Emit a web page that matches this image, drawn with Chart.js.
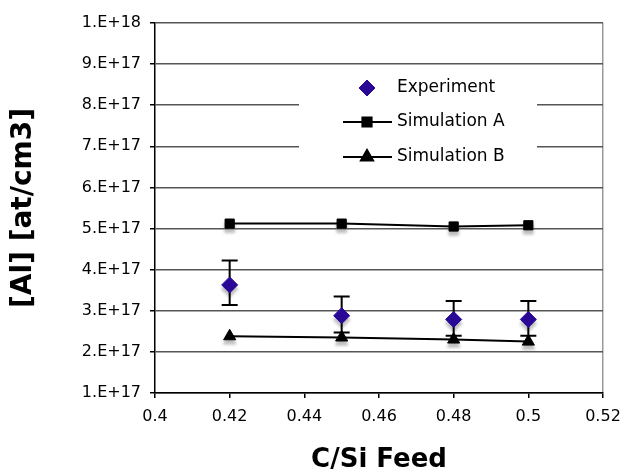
<!DOCTYPE html>
<html>
<head>
<meta charset="utf-8">
<script src="https://cdn.jsdelivr.net/npm/chart.js@4/dist/chart.umd.min.js"></script>
<style>
  html, body { margin: 0; padding: 0; background: #fff; }
  canvas { display: block; }
</style>
</head>
<body>
<canvas id="c" width="625" height="473"></canvas>
<script>
// C/Si feed ratio vs Al concentration
const feed       = [0.42, 0.45, 0.48, 0.50];
const experiment = [3.63e17, 2.88e17, 2.79e17, 2.79e17];
const expHigh    = [4.22e17, 3.35e17, 3.24e17, 3.24e17];
const expLow     = [3.14e17, 2.47e17, 2.39e17, 2.39e17];
const simA       = [5.12e17, 5.12e17, 5.05e17, 5.08e17];
const simB       = [2.38e17, 2.35e17, 2.30e17, 2.25e17];
const seriesNames = ['Experiment', 'Simulation A', 'Simulation B'];

const FONT = 'DejaVu Sans, Verdana, sans-serif';
const pts = ys => feed.map((x, i) => ({ x, y: ys[i] }));

const fmtSci = v => {
    const e = Math.floor(Math.log10(v) + 1e-9);
    return Math.round(v / Math.pow(10, e)) + '.E+' + e;
};

// grey drop shadows under markers
const shadowPlugin = {
    id: 'shadows',
    beforeDatasetsDraw(chart) {
        const ctx = chart.ctx;
        ctx.save();
        ctx.filter = 'blur(1.5px)';
        chart.data.datasets.forEach((ds, i) => {
            const meta = chart.getDatasetMeta(i);
            meta.data.forEach(pt => {
                ctx.fillStyle = 'rgba(110,110,110,0.45)';
                ctx.strokeStyle = 'rgba(110,110,110,0.45)';
                Chart.helpers.drawPoint(ctx, { pointStyle: ds.pointStyle, radius: ds.pointRadius, borderWidth: 1, rotation: 0 }, pt.x, pt.y + 4);
            });
        });
        ctx.restore();
    }
};

// error bars on the experiment series
const errorBars = {
    id: 'errorBars',
    beforeDatasetsDraw(chart) {
        const { ctx, scales: { x, y } } = chart;
        ctx.save();
        ctx.strokeStyle = '#000';
        ctx.lineWidth = 2;
        feed.forEach((f, i) => {
            const px = x.getPixelForValue(f);
            const top = y.getPixelForValue(expHigh[i]);
            const bot = y.getPixelForValue(expLow[i]);
            ctx.beginPath();
            ctx.moveTo(px, top); ctx.lineTo(px, bot);
            ctx.moveTo(px - 8, top); ctx.lineTo(px + 8, top);
            ctx.moveTo(px - 8, bot); ctx.lineTo(px + 8, bot);
            ctx.stroke();
        });
        ctx.restore();
    }
};

// legend box inside the plot
const boxLegend = {
    id: 'boxLegend',
    afterDatasetsDraw(chart) {
        const ctx = chart.ctx;
        ctx.save();
        ctx.fillStyle = '#fff';
        ctx.fillRect(299, 72, 238, 104);
        const rows = [88, 122, 157];
        chart.data.datasets.forEach((ds, i) => {
            const yy = rows[i];
            if (ds.showLine) {
                ctx.strokeStyle = '#000';
                ctx.lineWidth = 2;
                ctx.beginPath();
                ctx.moveTo(343, yy); ctx.lineTo(392, yy);
                ctx.stroke();
            }
            ctx.fillStyle = ds.pointBackgroundColor;
            ctx.strokeStyle = ds.pointBorderColor;
            Chart.helpers.drawPoint(ctx, { pointStyle: ds.pointStyle, radius: ds.pointRadius, borderWidth: 1, rotation: 0 }, 367, yy);
            ctx.fillStyle = '#000';
            ctx.font = '17px ' + FONT;
            ctx.textBaseline = 'middle';
            ctx.textAlign = 'left';
            ctx.fillText(seriesNames[i], 397, yy);
        });
        ctx.restore();
    }
};

new Chart(document.getElementById('c'), {
    type: 'scatter',
    data: {
        datasets: [
            { label: seriesNames[0], data: pts(experiment), showLine: false, pointStyle: 'rectRot', pointRadius: 8,
              pointBackgroundColor: '#2a0896', pointBorderColor: '#2a0896', pointBorderWidth: 1 },
            { label: seriesNames[1], data: pts(simA), showLine: true, borderColor: '#000', borderWidth: 2,
              pointStyle: 'rect', pointRadius: 6.5, pointBackgroundColor: '#000', pointBorderColor: '#000', pointBorderWidth: 1 },
            { label: seriesNames[2], data: pts(simB), showLine: true, borderColor: '#000', borderWidth: 2,
              pointStyle: 'triangle', pointRadius: 7, pointBackgroundColor: '#000', pointBorderColor: '#000', pointBorderWidth: 1 },
        ],
    },
    options: {
        responsive: false,
        animation: false,
        layout: { padding: { top: 23, right: 22, left: 0, bottom: 0 } },
        plugins: { legend: { display: false }, tooltip: { enabled: false } },
        scales: {
            x: {
                type: 'linear', min: 0.4, max: 0.52,
                afterFit: s => { s.height = 80; s.paddingRight = 0; s.paddingLeft = 0; },
                ticks: { stepSize: 0.02, color: '#000', padding: 9, font: { family: FONT, size: 16 },
                         callback: v => String(+v.toFixed(2)) },
                grid: { color: c => c.index === 6 ? '#999' : 'rgba(0,0,0,0)', tickColor: '#000', tickLength: 5, lineWidth: 1.5 },
                border: { color: '#000', width: 1.5 },
                title: { display: true, text: 'C/Si Feed', color: '#000', padding: 0,
                         font: { family: FONT, size: 26, weight: 'bold', lineHeight: 1 } },
            },
            y: {
                min: 1e17, max: 1e18,
                afterFit: s => { s.width = 155; },
                ticks: { stepSize: 1e17, color: '#000', padding: 9, font: { family: FONT, size: 16 }, callback: fmtSci },
                grid: { color: '#555', tickColor: '#000', tickLength: 5, lineWidth: 1.5 },
                border: { color: '#000', width: 1.5 },
                title: { display: true, text: '[Al] [at/cm3]', color: '#000', padding: { top: 10, bottom: 0 },
                         font: { family: FONT, size: 28, weight: 'bold', lineHeight: 1 } },
            },
        },
    },
    plugins: [shadowPlugin, errorBars, boxLegend],
});
</script>
</body>
</html>
